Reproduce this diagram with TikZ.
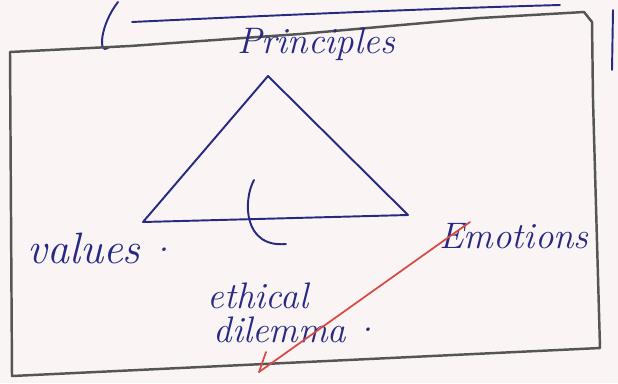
\documentclass[tikz,border=0pt]{standalone}
\usepackage{tikz}
\usetikzlibrary{positioning,calc}
\definecolor{InkBlue}{RGB}{38,42,130}
\definecolor{PenRed}{RGB}{215,75,70}
\definecolor{FrameGray}{RGB}{85,85,85}
\definecolor{PaperPink}{RGB}{250,244,244}
\tikzset{
  ink/.style={draw=InkBlue,line width=1.1pt,line cap=round,line join=round},
  word/.style={text=InkBlue,font=\fontsize{21}{24}\selectfont\itshape,inner sep=0pt},
  frame/.style={draw=FrameGray,line width=1.4pt,line join=round},
  tick/.style={draw=PenRed,line width=1pt,line cap=round}
}
\begin{document}
\begin{tikzpicture}[x=0.02cm,y=-0.02cm]
\fill[PaperPink] (0,0) rectangle (618,383);
\useasboundingbox (0,0) rectangle (618,383);

% scraps of the page above
\draw[ink] (132,22) .. controls (300,14) and (450,8) .. (560,5);
\draw[ink] (118,2) .. controls (100,25) and (98,55) .. (108,48);
\draw[ink] (613,10) -- (612,70);

% the frame
\draw[frame] (10,52) -- (12,376) -- (600,348) -- (593,100) -- (592,22)
  -- (584,12) -- (480,18) -- (300,34) -- (130,46) -- cycle;

% triangle
\coordinate (apex) at (268,76);
\coordinate (lft) at (143,222);
\coordinate (rgt) at (408,215);
\draw[ink] (lft) -- (apex) -- (rgt) -- cycle;

\node[word] (princ) at (316,44) {Principles};
\node[word,font=\fontsize{25}{28}\selectfont\itshape] (val) at (84,248) {values};
\node[word] (valdot) at (164,250) {.};
\node[word] (emo) at (514,236) {Emotions};
\node[word] (eth) at (258,296) {ethical};
\node[word] (dil) at (280,330) {dilemma};
\node[word] (dot) at (368,330) {.};

% hook from the base
\coordinate (hk) at (286,244);
\draw[ink] (254,180) .. controls (243,200) and (243,248) .. (hk);

% red tick
\coordinate (tk) at (259,372);
\draw[tick] (tk) -- (470,222);
\draw[tick] (tk) -- (266,352);
\end{tikzpicture}
\end{document}
